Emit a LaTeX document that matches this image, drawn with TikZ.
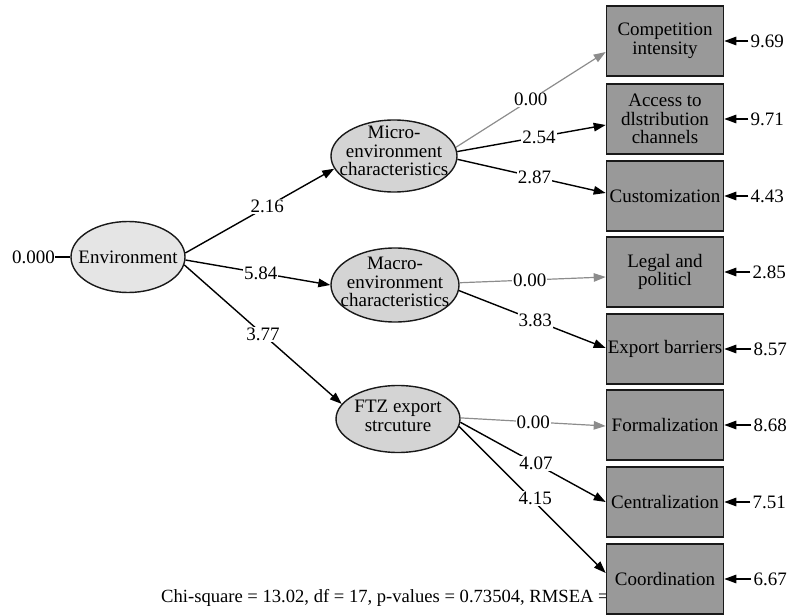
\documentclass[tikz,border=0pt]{standalone}
\usepackage{fontspec}
\setmainfont{Liberation Serif}
\usetikzlibrary{shapes.geometric,arrows.meta}
\begin{document}
\begin{tikzpicture}[x=1pt,y=-1pt,
  txt/.style={font=\fontsize{19}{18.5}\selectfont, align=center},
  latent/.style={ellipse, draw=black!90, line width=1.4pt, fill=black!17, inner sep=0pt},
  obsbox/.style={rectangle, draw=black!90, line width=1.6pt, fill=black!40,
    minimum width=117, minimum height=70, inner sep=0pt, txt},
  tip/.style={-{Triangle[length=12pt,width=8.5pt]}},
  path/.style={line width=1.4pt, tip},
  fixed/.style={line width=1.2pt, draw=black!45, tip},
  coef/.style={fill=white, inner sep=1pt, txt},
  errnum/.style={txt, anchor=west, inner sep=0pt},
]
\useasboundingbox (0,0) rectangle (788,615);

% fit statistics (partly hidden behind the last indicator)
\node[font=\fontsize{18.6}{18}\selectfont, anchor=west, inner sep=0pt] (fit) at (161,598)
  {Chi-square = 13.02, df = 17, p-values = 0.73504, RMSEA = 0.000};

% latent variables: fixed-size ellipses, labels set on top
\node[latent, fill=black!10, minimum width=114, minimum height=71] (env) at (128,257) {};
\node[latent, minimum width=126, minimum height=72] (micro) at (394,156) {};
\node[latent, minimum width=128, minimum height=74] (macro) at (395,285) {};
\node[latent, minimum width=124, minimum height=67] (ftz) at (398,419) {};
\node[txt] (env-t) at (env) {Environment};
\node[txt] (micro-t) at ([yshift=5pt]micro.center) {Micro-\\environment\\characteristics};
\node[txt] (macro-t) at ([yshift=3pt]macro.center) {Macro-\\environment\\characteristics};
\node[txt] (ftz-t) at ([yshift=3pt]ftz.center) {FTZ export\\strcuture};

% indicators
\node[obsbox] (comp)  at (665,41)  {Competition\\intensity};
\node[obsbox] (acc)   at (665,119) {Access to\\dlstribution\\channels};
\node[obsbox] (cust)  at (665,196) {Customization};
\node[obsbox] (legal) at (665,272) {Legal and\\politicl};
\node[obsbox] (exp)   at (665,349) {Export barriers};
\node[obsbox] (form)  at (665,425) {Formalization};
\node[obsbox] (cent)  at (665,502) {Centralization};
\node[obsbox] (coord) at (665,579) {Coordination};

% variance of the exogenous factor
\node[txt, anchor=east, inner sep=0pt] (v0) at (55,257) {0.000};
\draw[line width=1.8pt] (v0.east) -- (env.west);

% structural paths
\draw[path] (env.4) -- node[coef, pos=0.55] {2.16} (micro.192);
\draw[path] (env.-3) -- node[coef, pos=0.52] {5.84} (macro.west);
\draw[path] (env.-8) -- node[coef, pos=0.5] {3.77} (ftz.165);

% measurement paths
\draw[fixed] (micro.8) -- node[coef, pos=0.5] {0.00} ([yshift=-11pt]comp.west);
\draw[path]  (micro.4) -- node[coef, pos=0.55] {2.54} ([yshift=-6pt]acc.west);
\draw[path]  (micro.-3) -- node[coef, pos=0.52] {2.87} ([yshift=3pt]cust.west);
\draw[fixed] (macro.2) -- node[coef, pos=0.48] {0.00} ([yshift=-5pt]legal.west);
\draw[path]  (macro.-5) -- node[coef, pos=0.52] {3.83} ([yshift=1pt]exp.west);
\draw[fixed] (ftz.1) -- node[coef, pos=0.5] {0.00} ([yshift=-1pt]form.west);
\draw[path]  (ftz.-3) -- node[coef, pos=0.52] {4.07} (cent.west);
\draw[path]  (ftz.-7) -- node[coef, pos=0.52, yshift=4pt] {4.15} ([yshift=6pt]coord.west);

% error variances
\foreach \b/\v/\dx in {comp/9.69/26, acc/9.71/26, cust/4.43/26, legal/2.85/28, exp/8.57/29, form/8.68/29, cent/7.51/28, coord/6.67/29}{
  \node[errnum] (e-\b) at ([xshift=\dx pt]\b.east) {\v};
  \draw[path] ([xshift=-2pt]e-\b.west) -- (\b.east);
}
\end{tikzpicture}
\end{document}
